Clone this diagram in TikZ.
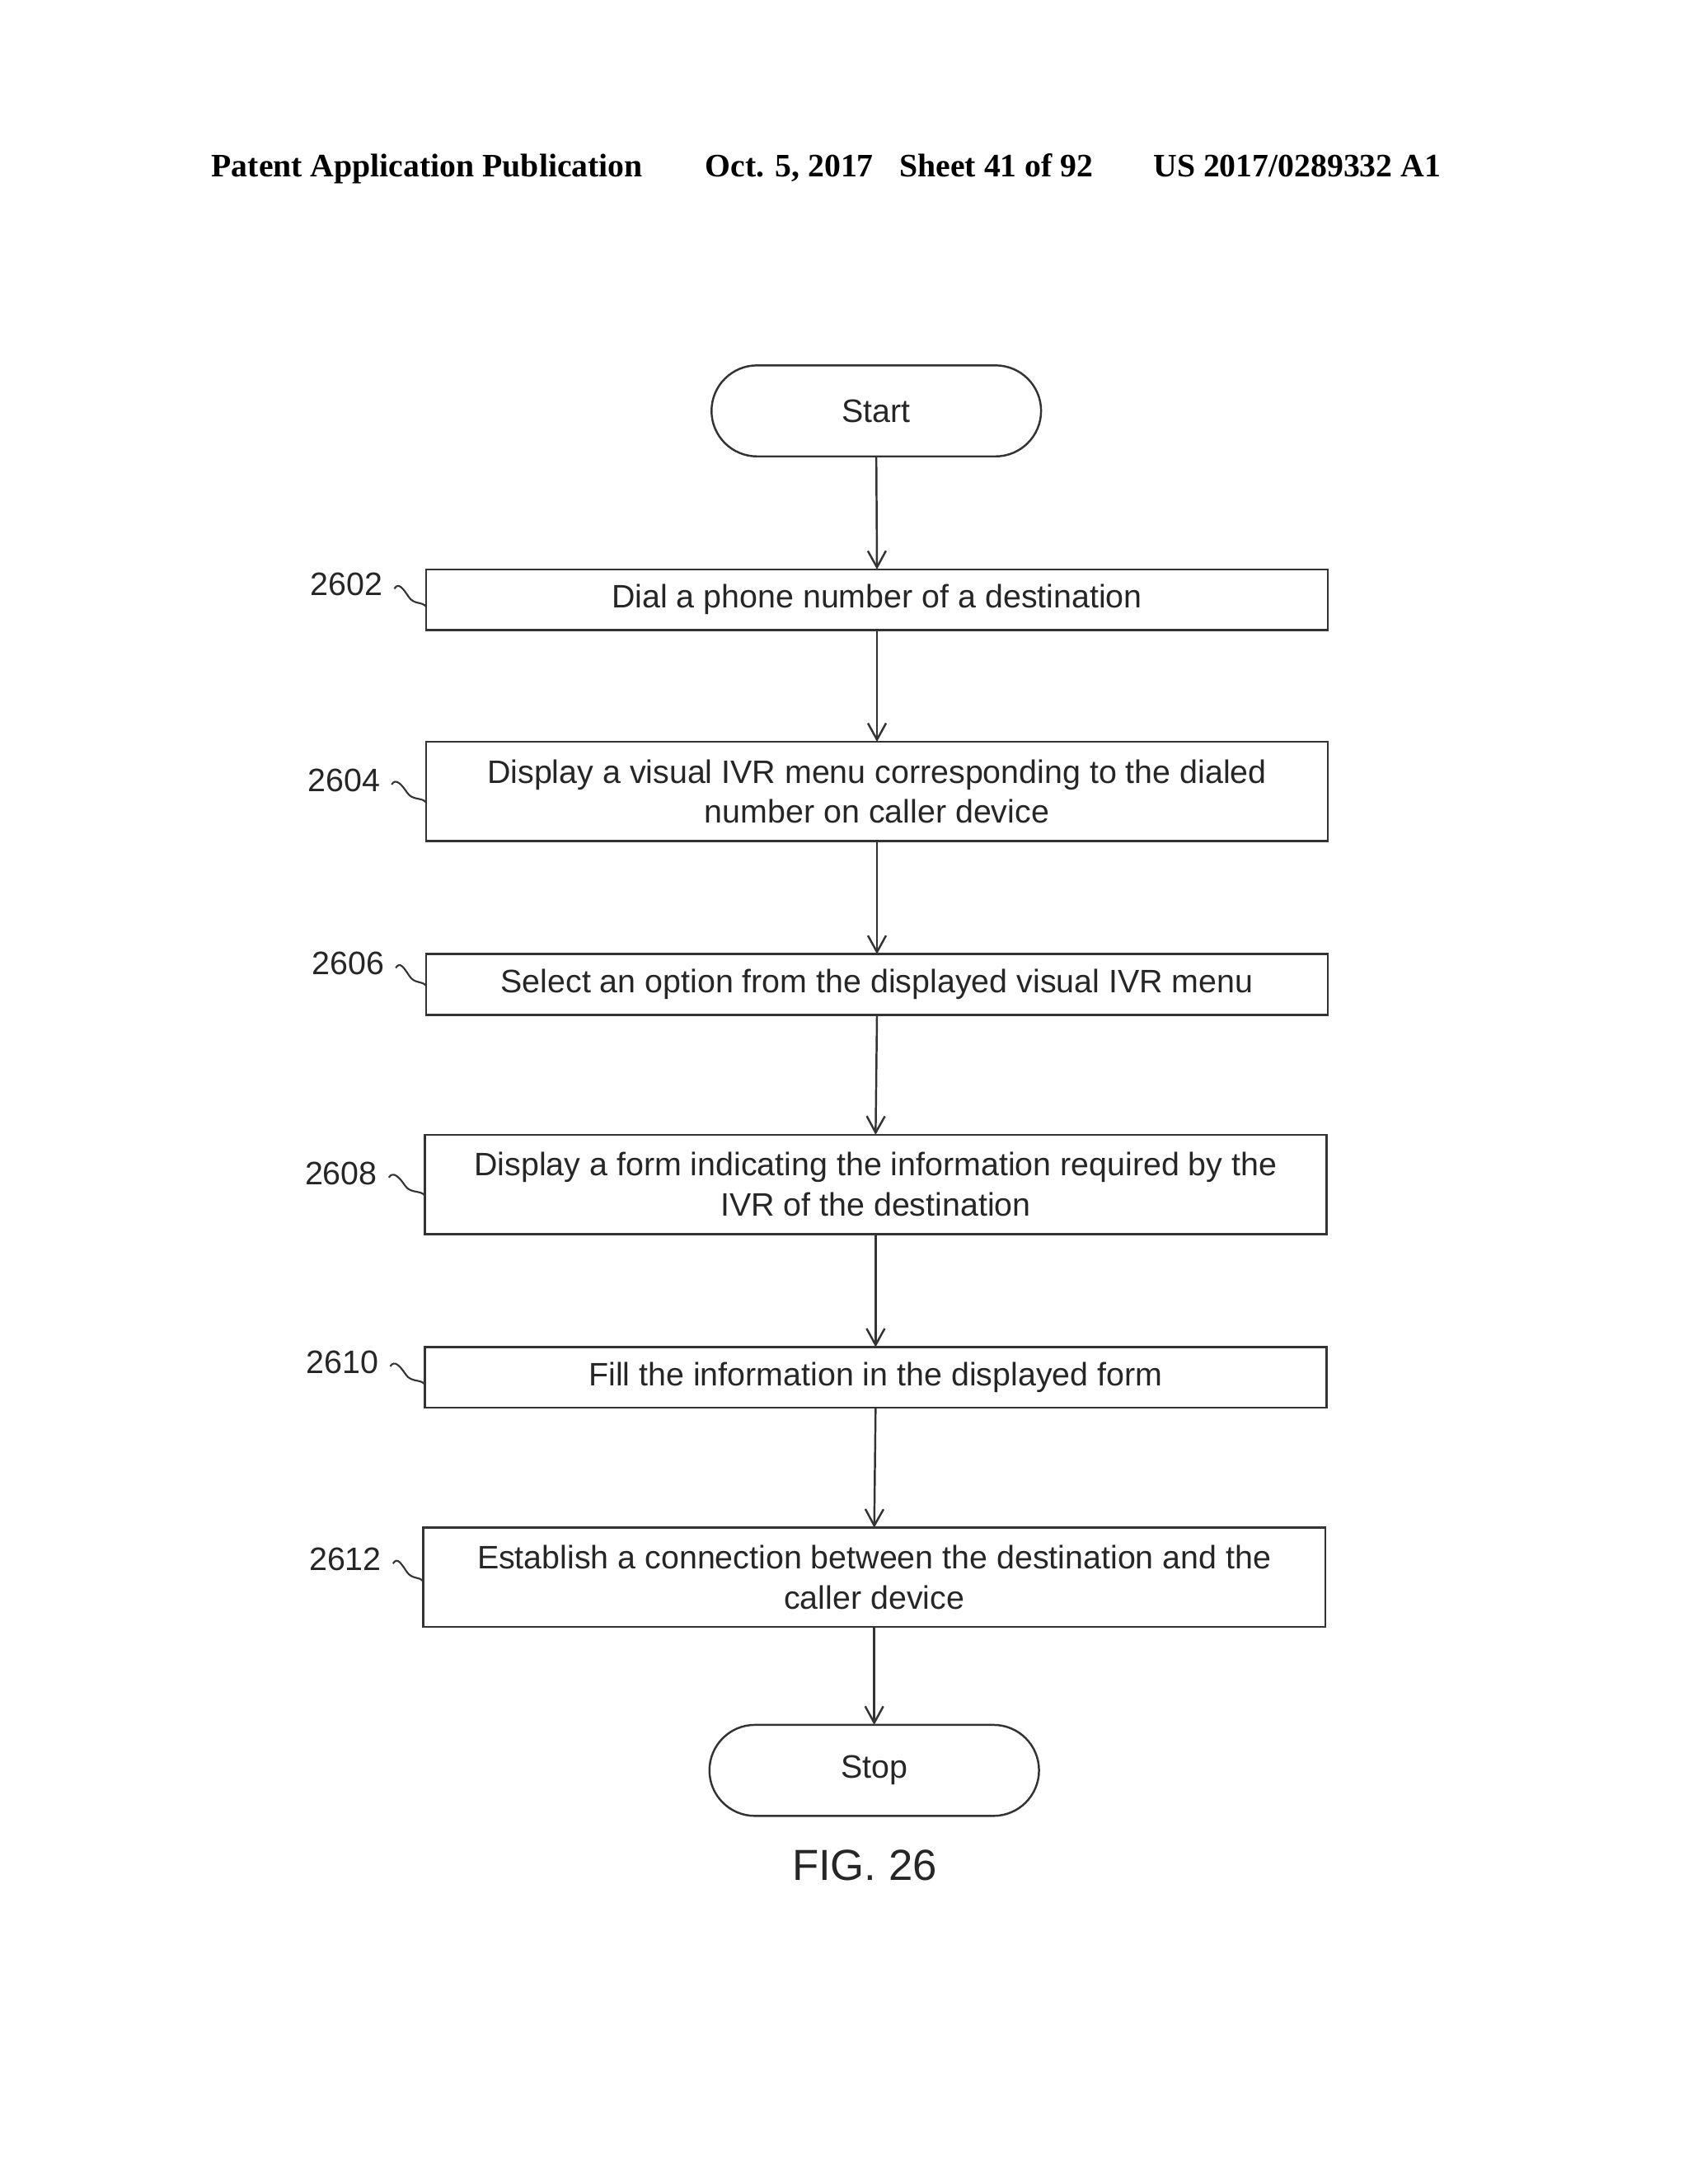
\documentclass[tikz,border=0pt]{standalone}
\usepackage{fontspec}
\setmainfont{Liberation Sans}
\newfontfamily\hdrfont{Liberation Serif}
\usetikzlibrary{arrows.meta,calc}
\begin{document}
\begin{tikzpicture}[x=0.01673cm,y=-0.01673cm,
  ink/.style={draw=black!80,line width=0.7pt},
  stepbox/.style={ink,rectangle,minimum width=654*0.01673cm,inner sep=0pt,outer sep=0pt,align=center,
     font=\fontsize{11.2}{13.8}\selectfont,text=black!85},
  onebox/.style={stepbox,minimum height=44*0.01673cm},
  twobox/.style={stepbox,minimum height=72*0.01673cm},
  term/.style={ink,rectangle,rounded corners=33*0.01673cm,minimum width=239*0.01673cm,minimum height=66*0.01673cm,
     inner sep=0pt,outer sep=0pt,font=\fontsize{11.2}{13.8}\selectfont,text=black!85},
  flow/.style={ink,-{Straight Barb[length=0.2cm,width=0.22cm]}},
  lbl/.style={anchor=east,inner sep=0pt,font=\fontsize{11.2}{13.8}\selectfont,text=black!85},
  hdr/.style={anchor=base west,inner sep=0pt,font=\hdrfont\bfseries\fontsize{11.3}{13}\selectfont}
]
\useasboundingbox (0,0) rectangle (1224,1584);
\fill[white] (0,0) rectangle (1224,1584);

% header
\node[hdr] (h1) at (153,128.5) {Patent Application Publication};
\node[hdr] (h2) at (511,128.5) {Oct. 5, 2017};
\node[hdr] (h3) at (652,128.5) {Sheet 41 of 92};
\node[hdr] (h4) at (836,128.5) {US 2017/0289332 A1};

% flow
\node[term] (start) at (635.5,298) {Start};
\node[onebox] (b2602) at (636,435) {Dial a phone number of a destination};
\node[twobox] (b2604) at (636,574) {Display a visual IVR menu corresponding to the dialed\\number on caller device};
\node[onebox] (b2606) at (636,714) {Select an option from the displayed visual IVR menu};
\node[twobox] (b2608) at (635,859) {Display a form indicating the information required by the\\IVR of the destination};
\node[onebox] (b2610) at (635,999) {Fill the information in the displayed form};
\node[twobox] (b2612) at (634,1144) {Establish a connection between the destination and the\\caller device};
\node[term] (stop) at (634,1284) {Stop};

\draw[flow] (start.south) -- (b2602.north);
\draw[flow] (b2602.south) -- (b2604.north);
\draw[flow] (b2604.south) -- (b2606.north);
\draw[flow] (b2606.south) -- (b2608.north);
\draw[flow] (b2608.south) -- (b2610.north);
\draw[flow] (b2610.south) -- (b2612.north);
\draw[flow] (b2612.south) -- (stop.north);

\node[inner sep=0pt,font=\fontsize{15}{18}\selectfont,text=black!85] (fig) at (627,1353) {FIG. 26};

% reference labels with squiggles
\node[lbl] (l2602) at (278,424) {2602};
\node[lbl] (l2604) at (276,566) {2604};
\node[lbl] (l2606) at (279,699) {2606};
\node[lbl] (l2608) at (274,851) {2608};
\node[lbl] (l2610) at (275,988) {2610};
\node[lbl] (l2612) at (277,1131) {2612};

\foreach \l/\b in {l2602/b2602,l2604/b2604,l2606/b2606,l2608/b2608,l2610/b2610,l2612/b2612}{
  \coordinate (s) at ([xshift=8*0.01673cm,yshift=-3*0.01673cm]\l.east);
  \coordinate (t) at ([yshift=-16*0.01673cm]\l.east);
  \coordinate (e) at (\b.west |- t);
  \coordinate (m) at ($(s)!0.45!(e)$);
  \draw[ink,line width=0.6pt] (s) .. controls +(3,-5) and +(-4,-6) .. (m) .. controls +(4,6) and +(-3,-4) .. (e);
}
\end{tikzpicture}
\end{document}
